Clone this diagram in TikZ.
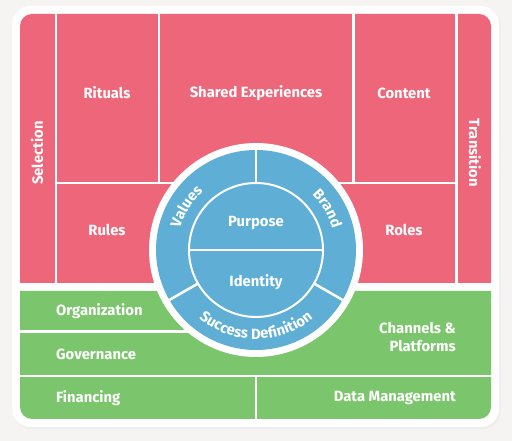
\documentclass[tikz,border=0pt]{standalone}
\usepackage{fontspec}
\setmainfont{Fira Sans}
\definecolor{paper}{RGB}{245,244,242}
\definecolor{rose}{RGB}{238,102,121}
\definecolor{leaf}{RGB}{123,198,108}
\definecolor{sky}{RGB}{94,174,213}
\usetikzlibrary{decorations.text}

\begin{document}
\begin{tikzpicture}[x=1pt,y=1pt,
  lbl/.style={font=\fontsize{14.8}{18}\selectfont\bfseries, text=white, inner sep=0pt},
  sep/.style={white, line width=2.5pt},
  arclbl/.style={decorate, decoration={text along path, text align=center, text color=white,
    text={|\fontsize{14.8}{16}\selectfont\bfseries|#1}}}]
        \fill[paper] (0,0) rectangle (512,441);
        \fill[black!7, rounded corners=18] (13,12) rectangle (500.5,434);
        \fill[white, rounded corners=18] (12,14) rectangle (499,435);
        \fill[rose] (20,158) [rounded corners=12] -- (20,427) -- (491,427) [sharp corners] -- (491,158) -- cycle;
        \fill[leaf] (20,150) [rounded corners=12] -- (20,22) -- (491,22) [sharp corners] -- (491,150) -- cycle;
        \draw[sep] (56,427) -- (56,158);
        \draw[sep] (456.5,427) -- (456.5,158);
        \draw[sep] (159,427) -- (159,258);
        \draw[sep] (353.5,427) -- (353.5,258);
        \draw[sep] (56,258) -- (456.5,258);
        \draw[sep] (20,109.5) -- (256,109.5);
        \draw[sep] (20,65) -- (491,65);
        \draw[sep] (256,65) -- (256,22);
        \fill[white] (256,191) circle (107);
        \fill[sky] (256,191) circle (100);
        \draw[white, line width=2pt] (256,191) circle (67);
        \draw[white, line width=2pt] (189,191) -- (323,191);
        \foreach \a in {90,210,330}
          \draw[sep] (256,191) ++(\a:67) -- ++(\a:33);
        \path[arclbl=Values] (256,191) ++(181:79) arc[start angle=181, end angle=115, radius=79];
        \path[arclbl=Brand] (256,191) ++(63:79) arc[start angle=63, end angle=-3, radius=79];
        \path[arclbl=Success Definition] (256,191) ++(200:89) arc[start angle=200, end angle=340, radius=89];
        \node[lbl] (rituals) at (107,348) {Rituals};
        \node[lbl] (shared) at (256,348) {Shared Experiences};
        \node[lbl] (content) at (404,348) {Content};
        \node[lbl, rotate=90] (selection) at (37,288) {Selection};
        \node[lbl, rotate=-90] (transition) at (475,288) {Transition};
        \node[lbl] (rules) at (107,211) {Rules};
        \node[lbl] (roles) at (404,211) {Roles};
        \node[lbl] (purpose) at (256,218) {Purpose};
        \node[lbl] (identity) at (256,159) {Identity};
        \node[lbl, anchor=west] (organization) at (56,130) {Organization};
        \node[lbl, anchor=west] (governance) at (56,87) {Governance};
        \node[lbl, anchor=west] (financing) at (56,43) {Financing};
        \node[lbl, anchor=east, align=right] (channels) at (456,104) {Channels \&\\Platforms};
        \node[lbl, anchor=east] (datamgmt) at (456,43) {Data Management};
      \end{tikzpicture}
\end{document}
